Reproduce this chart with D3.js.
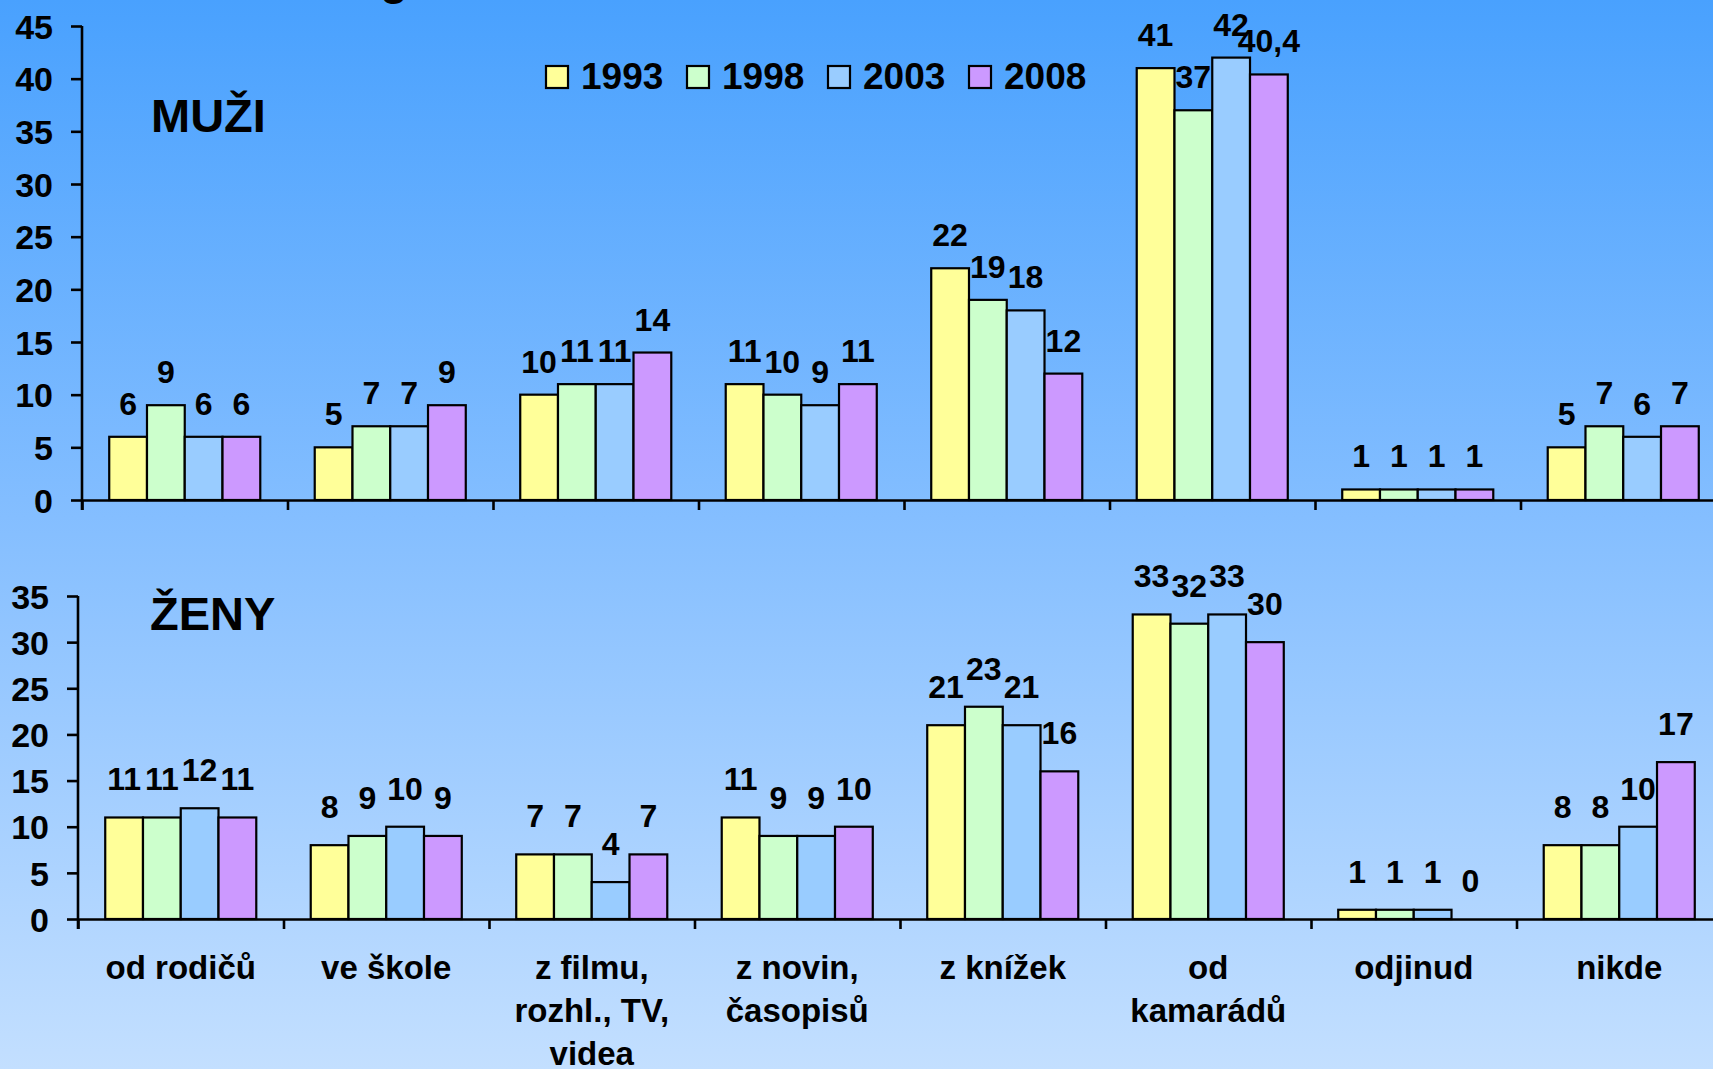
<!DOCTYPE html>
<html>
<head>
<meta charset="utf-8">
<script src="https://cdn.jsdelivr.net/npm/d3@7"></script>
<style>
html,body{margin:0;padding:0;overflow:hidden;}
svg text{font-family:"Liberation Sans",Arial,sans-serif;font-weight:bold;fill:#000;}
</style>
</head>
<body>
<svg id="chart" width="1713" height="1069"></svg>
<script>
const categories = ["od rodičů","ve škole","z filmu,\nrozhl., TV,\nvidea","z novin,\nčasopisů","z knížek","od\nkamarádů","odjinud","nikde"];
const years = ["1993","1998","2003","2008"];
const colors = ["#ffff99","#ccffcc","#99ccff","#cc99ff"];
// MUŽI (men): rows = categories, columns = years
const menValues = [
  [6,9,6,6],
  [5,7,7,9],
  [10,11,11,14],
  [11,10,9,11],
  [22,19,18,12],
  [41,37,42,40.4],
  [1,1,1,1],
  [5,7,6,7]
];
// ŽENY (women)
const womenValues = [
  [11,11,12,11],
  [8,9,10,9],
  [7,7,4,7],
  [11,9,9,10],
  [21,23,21,16],
  [33,32,33,30],
  [1,1,1,0],
  [8,8,10,17]
];
const menTicks = [0,5,10,15,20,25,30,35,40,45];
const womenTicks = [0,5,10,15,20,25,30,35];

const W = 1713, H = 1069;
const svg = d3.select("#chart");
const defs = svg.append("defs");
const grad = defs.append("linearGradient").attr("id","bg").attr("x1",0).attr("y1",0).attr("x2",0).attr("y2",1);
grad.append("stop").attr("offset","0%").attr("stop-color","#49a1fe");
grad.append("stop").attr("offset","50%").attr("stop-color","#86bfff");
grad.append("stop").attr("offset","100%").attr("stop-color","#c3dfff");
svg.append("rect").attr("width",W).attr("height",H).attr("fill","url(#bg)");

// clipped title remnant at the very top
svg.append("text").attr("x",380).attr("y",-6).attr("font-size",46).text("g");

const fmt = v => String(v).replace(".", ",");

function panel(values, ticks, opts) {
  const g = svg.append("g");
  const step = 205.5;
  const x0 = d3.scaleBand().domain(d3.range(categories.length))
    .range([opts.left, opts.left + step*categories.length])
    .paddingInner(0.265).paddingOuter(0.1325);
  const x1 = d3.scaleBand().domain(d3.range(years.length)).range([0, x0.bandwidth()]);
  const y = d3.scaleLinear().domain([0, d3.max(ticks)]).range([opts.zero, opts.top]);

  // bars
  const groups = g.selectAll("g.grp").data(values).join("g")
    .attr("transform",(d,i)=>`translate(${x0(i)},0)`);
  groups.selectAll("rect").data(d=>d).join("rect")
    .attr("x",(d,j)=>x1(j)).attr("width",x1.bandwidth())
    .attr("y",d=>y(d)).attr("height",d=>y(0)-y(d))
    .attr("fill",(d,j)=>colors[j]).attr("stroke","#000").attr("stroke-width",2.2);
  groups.selectAll("text").data(d=>d).join("text")
    .attr("x",(d,j)=>x1(j)+x1.bandwidth()/2)
    .attr("y",d=>y(d)-opts.labelGap)
    .attr("text-anchor","middle").attr("font-size",32)
    .text(d=>fmt(d));

  // y axis
  const ya = g.append("g").attr("transform",`translate(${opts.left},0)`)
    .call(d3.axisLeft(y).tickValues(ticks).tickSize(11).tickSizeOuter(0).tickPadding(18).tickFormat(d3.format("d")));
  ya.selectAll("line,path").attr("stroke","#000").attr("stroke-width",2.6);
  ya.selectAll("text").attr("font-size",34).attr("font-family","Liberation Sans, Arial, sans-serif").attr("font-weight","bold").attr("dy","0.36em");
  ya.select("path.domain").attr("d",`M0,${opts.top}V${opts.zero+10}`);

  // x axis with boundary ticks
  const xl = d3.scaleLinear().domain([0,categories.length]).range([opts.left, opts.left+step*categories.length]);
  const xa = g.append("g").attr("transform",`translate(0,${opts.zero})`)
    .call(d3.axisBottom(xl).tickValues(d3.range(0,categories.length+1)).tickSize(10).tickSizeOuter(0).tickFormat(""));
  xa.selectAll("line,path").attr("stroke","#000").attr("stroke-width",2.6);

  svg.append("text").attr("x",opts.titleX).attr("y",opts.titleY).attr("font-size",47).text(opts.title);
  return x0;
}

panel(menValues, menTicks, {left:82, zero:500, top:26, labelGap:22, title:"MUŽI", titleX:151, titleY:132});
const xb = panel(womenValues, womenTicks, {left:78, zero:919, top:596, labelGap:27, title:"ŽENY", titleX:150, titleY:630});

// category labels
const cl = svg.append("g");
categories.forEach((c,i)=>{
  const t = cl.append("text").attr("text-anchor","middle").attr("font-size",33)
    .attr("x", xb(i)+xb.bandwidth()/2).attr("y",979);
  c.split("\n").forEach((line,k)=>{
    t.append("tspan").attr("x", xb(i)+xb.bandwidth()/2).attr("dy", k===0?0:43).text(line);
  });
});

// legend
const lg = svg.append("g");
years.forEach((yr,i)=>{
  const lx = 546 + i*141;
  lg.append("rect").attr("x",lx).attr("y",66).attr("width",22).attr("height",22)
    .attr("fill",colors[i]).attr("stroke","#000").attr("stroke-width",2.2);
  lg.append("text").attr("x",lx+35).attr("y",89).attr("font-size",37).text(yr);
});
</script>
</body>
</html>
